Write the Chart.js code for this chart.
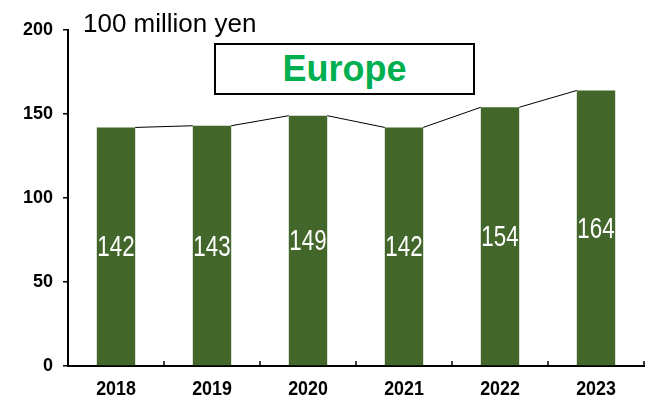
<!DOCTYPE html>
<html>
<head>
<meta charset="utf-8">
<script src="https://cdn.jsdelivr.net/npm/chart.js@4"></script>
<style>
  body { margin: 0; background: #fff; }
  #wrap { position: relative; width: 653px; height: 404px; }
  #unit {
    position: absolute; left: 83px; top: 8px;
    font: 26px "Liberation Sans", Arial, sans-serif; color: #000;
  }
  #region {
    position: absolute; left: 214px; top: 43px; width: 257px; height: 48px;
    border: 2px solid #000; background: #fff;
    font: bold 36px "Liberation Sans", Arial, sans-serif; color: #00b050;
    text-align: center; line-height: 48px;
  }
</style>
</head>
<body>
<div id="wrap">
  <canvas id="chart" width="653" height="404"></canvas>
  <div id="unit">100 million yen</div>
  <div id="region">Europe</div>
</div>
<script>
// 年度別売上（単位：億円）
const years = ["2018", "2019", "2020", "2021", "2022", "2023"];
const sales = [142, 143, 149, 142, 154, 164];
const yTicks = [0, 50, 100, 150, 200];

const sans = '"Liberation Sans", Arial, sans-serif';

// 横に詰めた文字を描く（細身フォントの代わり）
function narrowText(ctx, text, x, y, sx) {
  ctx.save();
  ctx.translate(x, y);
  ctx.scale(sx, 1);
  ctx.fillText(text, 0, 0);
  ctx.restore();
}

// 棒の上端をつなぐ区分線、棒の中央の数値、横軸の目盛りと年度
const barExtras = {
  id: "barExtras",
  afterDatasetsDraw(chart) {
    const ctx = chart.ctx;
    const bars = chart.getDatasetMeta(0).data;
    ctx.save();
    ctx.strokeStyle = "#000";
    ctx.lineWidth = 1;
    for (let i = 0; i < bars.length - 1; i++) {
      const a = bars[i], b = bars[i + 1];
      ctx.beginPath();
      ctx.moveTo(a.x + a.width / 2, a.y);
      ctx.lineTo(b.x - b.width / 2, b.y);
      ctx.stroke();
    }
    ctx.fillStyle = "#fff";
    ctx.font = "500 29px " + sans;
    ctx.textAlign = "center";
    ctx.textBaseline = "alphabetic";
    bars.forEach((bar, i) => {
      narrowText(ctx, String(sales[i]), bar.x, (bar.y + bar.base) / 2 + 10, 0.77);
    });
    ctx.restore();
  },
  afterDraw(chart) {
    const ctx = chart.ctx;
    const x = chart.scales.x;
    const bottom = chart.chartArea.bottom;
    ctx.save();
    ctx.strokeStyle = "#000";
    ctx.lineWidth = 1.5;
    for (let i = 0; i < years.length; i++) {
      const px = i < years.length - 1
        ? (x.getPixelForValue(i) + x.getPixelForValue(i + 1)) / 2
        : chart.chartArea.right;
      ctx.beginPath();
      ctx.moveTo(px, bottom);
      ctx.lineTo(px, bottom - 5);
      ctx.stroke();
    }
    ctx.fillStyle = "#000";
    ctx.font = "bold 21px " + sans;
    ctx.textAlign = "center";
    ctx.textBaseline = "alphabetic";
    years.forEach((yr, i) => {
      narrowText(ctx, yr, x.getPixelForValue(i), bottom + 29, 0.85);
    });
    ctx.restore();
  }
};

new Chart(document.getElementById("chart"), {
  type: "bar",
  data: {
    labels: years,
    datasets: [{
      data: sales,
      backgroundColor: "#43672b",
      borderWidth: 0,
      categoryPercentage: 1,
      barPercentage: 0.4
    }]
  },
  options: {
    responsive: false,
    animation: false,
    layout: { padding: { top: 30, right: 9, left: 0, bottom: 0 } },
    plugins: {
      legend: { display: false },
      tooltip: { enabled: false }
    },
    scales: {
      x: {
        grid: { display: false },
        border: { display: true, color: "#000", width: 2 },
        ticks: { display: false },
        afterFit(scale) { scale.height = 38; }
      },
      y: {
        min: 0,
        max: 200,
        afterBuildTicks(scale) {
          scale.ticks = yTicks.map(v => ({ value: v }));
        },
        grid: {
          drawOnChartArea: false,
          drawTicks: true,
          tickLength: 5,
          color: "#000",
          lineWidth: 1.5
        },
        border: { display: true, color: "#000", width: 2 },
        ticks: {
          color: "#000",
          padding: 10,
          font: { family: sans, size: 18, weight: "bold" }
        },
        afterFit(scale) { scale.width = 68; }
      }
    }
  },
  plugins: [barExtras]
});
</script>
</body>
</html>
